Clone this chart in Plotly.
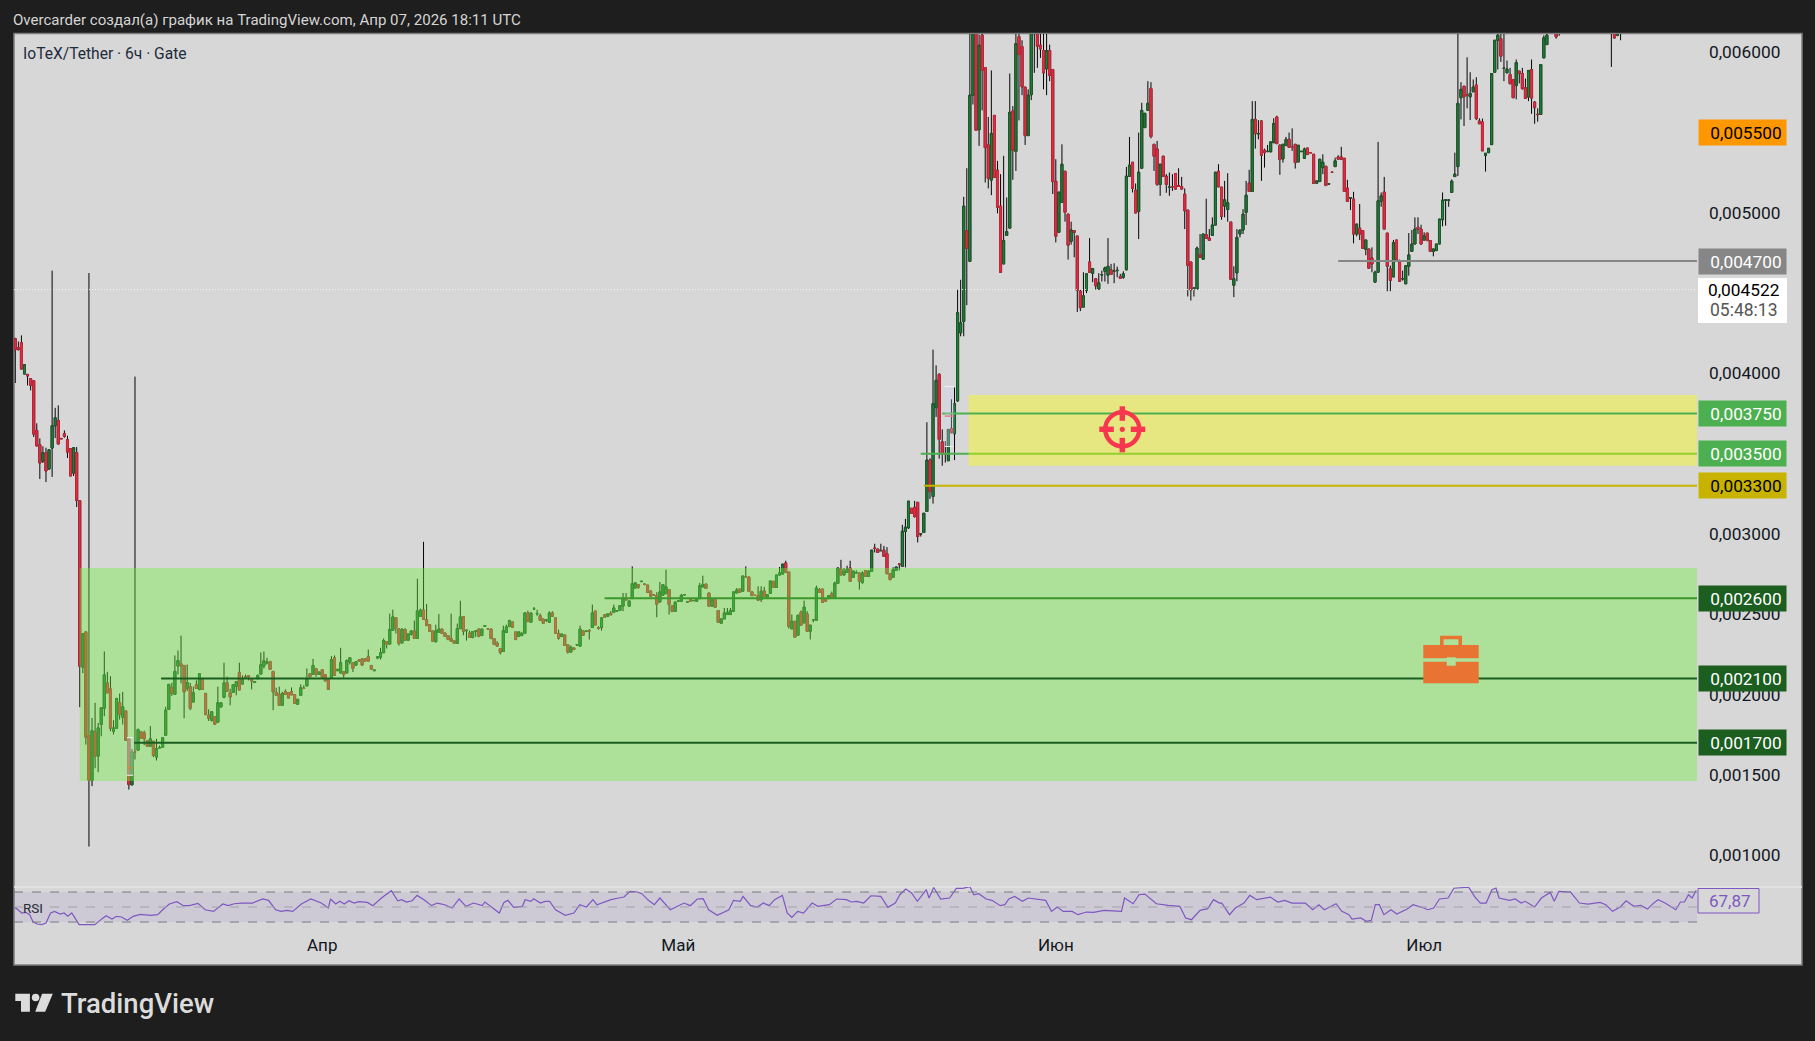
import plotly.graph_objects as go

W, H = 1815, 1041
PANE_L, PANE_R, MAIN_T, MAIN_B, RSI_B = 14, 1697, 34, 887, 926
FRAME_R, FRAME_B = 1802, 965

candle_index = list(range(500)) + [502, 503, 520, 521, 522, 523]

candle_open = [
4216,4160,4191,3996,3994,3967,3954,3645,3556,3454,
3506,3404,3535,3674,3707,3595,3624,3587,3531,3379,
3506,3207,2170,2390,1744,1464,1767,1616,1813,1915,
2072,2035,1771,1790,1948,1859,1898,1724,1437,1643,
1653,1767,1761,1713,1678,1709,1610,1666,1672,1746,
1908,2044,2001,2177,2191,2181,2038,2049,1953,2061,
2032,2094,2007,1871,1840,1862,1827,1922,1982,2073,
2011,2013,2051,2136,2065,2111,2117,2098,2075,2098,
2127,2177,2196,2206,2144,2013,2001,1933,2018,2011,
2018,1999,1939,1995,2040,2053,2129,2125,2160,2125,
2154,2123,2094,2104,2229,2148,2134,2142,2134,2202,
2198,2183,2216,2222,2222,2235,2181,2148,2227,2231,
2260,2330,2314,2400,2479,2408,2321,2404,2338,2375,
2396,2350,2487,2526,2466,2435,2396,2328,2388,2408,
2383,2367,2348,2334,2319,2410,2485,2397,2383,2355,
2395,2408,2367,2424,2409,2408,2348,2319,2286,2268,
2386,2423,2452,2390,2361,2367,2381,2508,2450,2532,
2502,2491,2470,2462,2450,2508,2477,2381,2361,2371,
2309,2264,2290,2308,2301,2396,2392,2398,2417,2520,
2415,2417,2496,2487,2506,2512,2519,2523,2550,2591,
2550,2597,2663,2684,2703,2688,2682,2645,2621,2616,
2576,2618,2628,2653,2554,2518,2581,2581,2620,2576,
2595,2584,2581,2597,2670,2688,2632,2550,2591,2523,
2444,2471,2498,2498,2519,2632,2657,2643,2734,2732,
2639,2618,2616,2591,2645,2605,2630,2705,2668,2744,
2750,2819,2763,2409,2456,2369,2514,2446,2502,2394,
2465,2463,2653,2657,2591,2597,2628,2605,2692,2781,
2744,2761,2788,2730,2757,2757,2697,2771,2736,2767,
2912,2906,2895,2899,2877,2752,2730,2773,2813,2798,
3015,3038,3160,3166,3197,2999,3009,3140,3460,3233,
3787,3994,3574,3498,3456,3657,3624,3829,4253,4324,
4889,4698,5731,6150,5518,6106,5905,5423,5204,5607,
5266,5042,4682,4860,4905,5634,5382,6098,6036,5783,
5481,5736,6130,6140,6044,6011,5897,6011,5893,5197,
4879,5065,5259,4992,4823,4889,4856,4512,4413,4516,
4694,4624,4589,4525,4613,4636,4612,4645,4636,4640,
4603,4599,4645,5228,5315,5141,5009,5278,5531,5638,
5775,5427,5398,5177,5353,5228,5158,5164,5245,5169,
5164,5117,5017,4694,4530,4525,4740,4711,4864,4843,
4860,4924,5259,5160,5042,5021,4943,4549,4626,4868,
4893,5003,5185,5133,5582,5492,5572,5390,5381,5380,
5437,5597,5421,5336,5419,5458,5409,5427,5317,5381,
5340,5404,5376,5365,5185,5195,5282,5290,5179,5254,
5288,5348,5348,5340,5154,5092,5086,4868,4905,4889,
4773,4775,4719,4568,4630,5073,5129,4874,4651,4601,
4831,4692,4588,4558,4667,4760,4806,4910,4899,4831,
4874,4827,4760,4765,4806,4957,5079,5079,5127,5226,
5288,5717,5789,5734,5723,5754,5796,5572,5566,5357,
5375,5425,5876,6075,6085,5899,5872,5862,5831,5793,
5883,5868,5779,5721,5893,5690,5614,5613,5965,6048,
6200,6130,6150,6200,6105,6150]

candle_high = [
4222,4199,4237,4054,3994,3967,3954,3689,3595,3546,
3537,3525,4640,3786,3801,3595,3645,3612,3531,3537,
3541,3207,2378,2390,4625,1854,1948,1823,1917,2268,
2141,2114,1840,1980,2006,2016,1898,1730,1661,3980,
1788,1767,1775,1713,1803,1709,1724,1682,1730,1923,
2063,2073,2243,2274,2367,2181,2187,2073,2049,2088,
2129,2094,2007,1908,1893,1862,2049,1949,2198,2111,
2036,2061,2080,2198,2119,2125,2117,2098,2082,2125,
2262,2268,2229,2206,2144,2042,2049,2016,2032,2011,
2044,1999,1970,2063,2057,2162,2129,2222,2160,2140,
2154,2123,2094,2239,2243,2157,2291,2142,2218,2229,
2198,2204,2216,2222,2222,2280,2181,2152,2235,2291,
2349,2330,2504,2529,2479,2411,2408,2413,2377,2396,
2460,2721,2535,2951,2564,2435,2396,2435,2502,2408,
2383,2367,2504,2334,2441,2584,2485,2406,2398,2392,
2396,2408,2408,2429,2409,2408,2348,2332,2286,2429,
2435,2466,2452,2390,2390,2390,2508,2522,2508,2545,
2528,2504,2470,2464,2518,2518,2477,2404,2377,2371,
2309,2305,2290,2310,2429,2396,2396,2408,2560,2520,
2425,2483,2496,2502,2519,2560,2521,2554,2632,2632,
2583,2798,2695,2684,2705,2688,2682,2645,2621,2637,
2701,2684,2777,2653,2554,2576,2583,2626,2622,2578,
2595,2586,2597,2695,2740,2688,2632,2591,2591,2523,
2471,2539,2539,2539,2639,2663,2657,2738,2798,2732,
2643,2618,2674,2674,2670,2622,2707,2705,2744,2794,
2812,2833,2763,2498,2456,2494,2523,2585,2519,2432,
2466,2678,2663,2657,2591,2616,2641,2703,2788,2839,
2788,2802,2833,2769,2773,2757,2767,2771,2769,2899,
2939,2906,2939,2926,2918,2752,2792,2794,2813,3057,
3094,3204,3160,3206,3197,3001,3129,3696,3471,4148,
4050,4001,3651,3578,3651,3839,3912,4521,4583,5100,
5278,6200,6250,6250,6110,6200,5905,5597,5887,5607,
5324,5241,5355,5096,5868,5665,6200,6200,6075,5783,
5769,6250,6250,6250,6150,6200,6200,6048,5893,5334,
5129,5427,5259,4992,4945,4889,4856,4520,4630,4620,
4843,4657,4589,4624,4640,4665,4843,4682,4686,4665,
4620,4636,5286,5473,5315,5183,5500,5686,5620,5820,
5814,5427,5448,5303,5353,5241,5251,5241,5245,5278,
5224,5152,5017,4694,4531,4790,4868,4868,5088,4899,
4972,5253,5303,5160,5199,5247,4943,4667,4899,4893,
5023,5199,5268,5696,5696,5578,5578,5400,5423,5442,
5589,5605,5427,5427,5473,5500,5526,5427,5421,5383,
5406,5404,5376,5365,5199,5334,5365,5290,5181,5254,
5344,5359,5411,5340,5206,5094,5131,4930,5055,4889,
4831,4775,4785,4640,5442,5127,5224,4874,4671,4831,
4831,4709,4640,4670,4874,4893,4972,4972,4926,4879,
4874,4827,4775,4806,4961,5127,5081,5085,5208,5375,
6200,5814,5789,5969,5876,5831,5845,5589,5587,5371,
5402,5868,6075,6200,6200,6200,5949,5903,5831,5955,
5883,5903,5837,5889,5955,5696,5651,5924,6106,6200,
6250,6250,6250,6250,6200,6250]

candle_low = [
3940,4143,4027,3996,3925,3894,3604,3548,3342,3442,
3323,3404,3355,3597,3560,3593,3599,3473,3361,3361,
3168,1921,2133,1688,1053,1429,1541,1516,1740,1865,
2010,1771,1751,1790,1844,1813,1715,1408,1437,1595,
1653,1726,1684,1678,1678,1610,1589,1666,1672,1746,
1908,1991,2001,2125,2069,1852,2022,1902,1953,2038,
2026,2032,1871,1835,1831,1815,1827,1922,1976,2020,
1933,2013,1995,2028,2065,2107,2088,2032,2075,2098,
2127,2162,2187,2156,1902,1995,1933,1933,2001,1978,
1997,1945,1939,1995,2038,2053,2109,2125,2111,2125,
2107,2084,2032,2104,2119,2148,2134,2104,2134,2187,
2140,2183,2208,2183,2208,2208,2158,2148,2220,2218,
2260,2287,2314,2400,2380,2305,2321,2338,2338,2367,
2350,2350,2487,2468,2429,2394,2332,2328,2388,2381,
2361,2342,2332,2319,2319,2410,2369,2336,2355,2350,
2359,2357,2367,2424,2407,2348,2311,2301,2249,2268,
2386,2423,2419,2342,2361,2367,2381,2454,2450,2532,
2491,2462,2444,2452,2450,2487,2381,2342,2361,2305,
2255,2264,2280,2308,2301,2369,2392,2342,2417,2433,
2404,2398,2481,2487,2496,2512,2519,2523,2519,2590,
2550,2597,2663,2659,2703,2680,2636,2612,2620,2481,
2576,2618,2628,2498,2512,2518,2581,2581,2620,2576,
2581,2584,2581,2597,2670,2661,2550,2550,2543,2450,
2444,2471,2498,2498,2519,2632,2636,2643,2733,2643,
2612,2617,2587,2576,2608,2605,2630,2668,2668,2744,
2750,2761,2411,2409,2357,2369,2432,2446,2394,2343,
2450,2463,2636,2574,2581,2597,2605,2605,2692,2744,
2744,2761,2705,2730,2757,2653,2690,2736,2736,2767,
2885,2885,2895,2860,2752,2715,2730,2773,2773,2798,
2792,3032,3129,3102,2947,2984,3009,3140,3218,3189,
3729,3469,3425,3444,3456,3630,3460,3823,4231,4231,
4425,4698,5675,5514,5417,5638,5189,5152,5110,5220,
4997,4630,4682,4860,4905,5206,5261,5576,5733,5423,
5481,5702,5872,5903,5965,5769,5733,5820,5117,4816,
4879,5065,4945,4709,4802,4723,4382,4388,4413,4500,
4630,4568,4522,4525,4572,4572,4558,4616,4562,4599,
4593,4589,4645,5228,5127,4999,4837,5278,5531,5638,
5464,5261,5168,5106,5228,5125,5106,5137,5148,5165,
5148,4899,4479,4454,4479,4525,4723,4711,4841,4829,
4860,4924,5162,4957,4972,4945,4587,4475,4574,4847,
4868,4924,5133,5133,5400,5458,5199,5282,5381,5380,
5437,5431,5237,5313,5419,5408,5386,5276,5317,5381,
5340,5363,5374,5183,5185,5195,5241,5170,5179,5252,
5288,5334,5334,5133,5071,5017,4810,4854,4831,4779,
4736,4655,4630,4568,4630,5038,4899,4512,4512,4601,
4709,4574,4578,4558,4609,4760,4806,4868,4802,4827,
4827,4760,4729,4765,4806,4916,4920,5038,5127,5226,
5230,5582,5541,5651,5578,5754,5578,5555,5386,5257,
5375,5425,5876,5893,5940,5820,5872,5804,5717,5707,
5806,5769,5713,5696,5617,5555,5568,5613,5965,6048,
6085,6103,5909,6085,6100,6075]

candle_close = [
4148,4148,4027,4054,3984,3925,3622,3548,3442,3506,
3392,3525,3674,3724,3560,3593,3608,3510,3361,3537,
3209,2176,2378,1734,1466,1775,1616,1792,1917,2122,
2010,1790,1792,1975,1875,1923,1715,1439,1641,1641,
1782,1726,1724,1678,1724,1620,1663,1670,1730,1902,
2063,2007,2144,2212,2177,2016,2075,1914,2011,2038,
2129,2032,1875,1852,1893,1815,1949,1949,2073,2020,
1984,2061,2080,2028,2098,2107,2111,2084,2080,2119,
2185,2210,2201,2156,2016,1995,1933,2007,2001,1978,
1997,1945,1970,2042,2038,2100,2109,2181,2125,2140,
2107,2084,2032,2218,2119,2157,2198,2125,2212,2229,
2162,2204,2208,2183,2208,2208,2158,2152,2235,2260,
2336,2312,2405,2483,2411,2317,2408,2338,2377,2396,
2350,2520,2526,2468,2429,2394,2332,2396,2408,2381,
2361,2342,2332,2319,2410,2483,2394,2400,2355,2392,
2396,2363,2408,2429,2407,2348,2311,2301,2261,2398,
2421,2460,2419,2342,2390,2379,2508,2454,2508,2534,
2504,2462,2444,2464,2508,2487,2381,2350,2377,2305,
2264,2295,2280,2310,2408,2369,2396,2396,2508,2433,
2413,2477,2481,2502,2496,2539,2521,2554,2597,2590,
2583,2690,2695,2668,2705,2686,2636,2612,2620,2562,
2639,2684,2670,2560,2518,2576,2583,2618,2622,2578,
2581,2586,2597,2678,2684,2661,2550,2591,2543,2450,
2471,2508,2512,2523,2639,2651,2636,2738,2733,2643,
2616,2617,2587,2643,2608,2622,2707,2668,2744,2757,
2812,2761,2425,2456,2357,2494,2432,2545,2394,2432,
2466,2663,2636,2574,2581,2616,2605,2694,2788,2744,
2767,2781,2705,2769,2759,2705,2757,2736,2769,2899,
2910,2885,2897,2860,2752,2715,2777,2794,2811,3017,
3042,3204,3129,3108,2984,3001,3129,3460,3264,3812,
3957,3589,3498,3497,3651,3630,3812,4378,4315,5042,
4779,5733,6160,5514,6044,5887,5406,5214,5495,5220,
5034,4630,4827,4883,5626,5390,6054,5986,5785,5481,
5733,6130,6170,6038,6021,5872,6011,5856,5195,4854,
5129,5303,5003,4798,4893,4879,4516,4409,4483,4620,
4630,4653,4545,4564,4615,4657,4667,4616,4638,4642,
4593,4620,5228,5297,5152,4999,5253,5638,5620,5682,
5475,5353,5177,5303,5228,5177,5160,5162,5148,5165,
5148,5013,4672,4520,4531,4781,4723,4868,4841,4829,
4924,5253,5162,4978,5081,5063,4587,4589,4847,4893,
4992,5110,5133,5582,5493,5494,5359,5375,5383,5442,
5557,5431,5332,5427,5458,5408,5407,5313,5421,5383,
5398,5363,5374,5183,5199,5334,5315,5170,5181,5252,
5324,5334,5334,5133,5071,5094,4868,4930,4868,4779,
4831,4655,4682,4630,5075,5106,4899,4667,4580,4814,
4709,4574,4591,4670,4738,4806,4899,4899,4806,4856,
4827,4760,4775,4806,4961,5079,5081,5080,5197,5241,
5682,5769,5723,5732,5744,5783,5587,5555,5386,5371,
5402,5868,6075,6106,5976,5901,5895,5804,5717,5936,
5868,5773,5713,5887,5715,5655,5612,5924,6090,6106,
6096,6180,6180,6090,6120,6180]

assert len(candle_open) == len(candle_high) == len(candle_low) == len(candle_close) == len(candle_index)

rsi_x = [-0.4,0.6,2.1,3.4,4.7,5.8,7.2,8.5,10,11.5,12.8,14.6,15.9,17.1,18.4,19.7,20.8,24,25.9,28.3,29.6,31.5,33,34.6,36.5,38.4,40.8,44,46.4,48.3,50.2,52.6,54.8,56.7,59.5,61.9,64.6,67.6,69.4,71.3,73.9,77.3,80.6,82.5,84.8,86.6,88.5,90.4,93.2,96.3,99.7,102,102.7,104.4,105.7,107.2,108.7,110.4,111.9,114.7,116.5,119.3,122.5,124.6,125.9,127.4,129.3,130.9,133.4,135.6,137.5,139.9,142.3,144.6,146.8,149.3,152.1,153,154.9,157.7,159.2,160.5,162.4,165.2,166.1,168,168.9,171.1,172.6,174.1,176,179.2,182,183.9,186.1,188.2,189.5,191,194.1,196.6,198.3,200.3,202.6,204.1,206.3,208.2,210,213.4,216.6,217.9,219.9,222.2,224.1,225.9,228.7,232.5,234,236.2,237.1,239.6,241.8,243.7,245.6,247.4,249.9,251.5,253,254.9,256.8,259.6,261.5,265.2,267.6,270.8,272.3,274.2,276.4,278.8,282,284.3,286.7,
288.2,290.1,292,293.9,296.8,297.7,299.2,301.5,304.4,306.6,308.7,311,312.3,313.9,316.3,318.2,320.9,322.4,323.7,325.6,328.1,330,333.8,335.7,337.6,339.5,341.4,344.3,346.2,349,351.3,354.7,360.4,361.4,364.2,366.1,368,371.8,375.6,379.4,381.3,383.2,386,388.5,390.4,392.3,393.1,395.6,397.5,400.3,402.2,404.5,408.9,411.3,413.6,415.9,420.3,422.7,424.7,426.5,430.3,432.2,434.5,435.5,438.3,440.2,441.8,443.1,444.4,445.9,448.2,450.1,453.5,455.4,458.3,460.2,462.1,464,466.8,468.7,473.5,475.4,477.3,479.2,481.1,482.4,483.4,486.8,488.7,490.6,491.9,495,497.2,500.1,501.4,502.9,506.7,509.6,512.4,516.3,518.2,520.4,522.9,524.8,527.3,529.6,531.8,533.4,535.2,537.5,541,542.5,543.8,545.1,546.3,547.6]

rsi_val = [50,47.3,42,42.9,39.8,30,27.4,26.5,28.7,42,44.2,40.7,42,37.6,42,34,26.5,26.5,26.5,34.5,38.5,34,37.6,36.7,32.3,37.6,40.2,38.9,39.8,47.3,54,57.1,51.8,51.8,54.9,46.4,44.2,54,51.8,54.4,55.3,55.3,60.7,58.9,46.4,44.2,45.5,44.2,54,60.7,55.3,48.7,60.7,54,57.6,54,58.4,55.3,57.1,56.2,51.8,62,71.8,58.4,59.8,56.7,58.4,65.5,58.9,51.8,55.3,53.1,48.7,60.7,50.9,55.3,51.8,56.7,50.9,42,56.2,58.9,49.6,50.9,59.8,57.6,61.1,55.3,57.6,57.6,46.4,38.9,42,53.1,50,59.8,53.1,55.3,59.8,62,63.3,70.9,70,67.8,58.9,53.1,62,46.4,53.1,55.3,51.8,60.7,61.1,46.4,38.9,46.4,58.9,57.6,64.2,51.8,50,55.3,51.8,59.8,65.5,42,36.2,44.2,42,55.3,50.9,53.1,60.7,59.8,56.7,57.6,55.3,65,64.2,49.6,55.3,
66.4,74,68.7,57.6,73.1,62,76,60.7,62,74.9,74.9,77.2,66.4,67.8,60.7,58.9,51.8,53.1,60.7,64.2,57.6,62,59.8,58.9,44.2,50,44.2,44.2,39.8,43.3,42.9,45.5,44.2,62,54.4,66.4,67.3,54.4,52.2,50.9,35.4,33.1,45.5,47.8,59.8,55.3,55.3,39.8,48.7,55.3,65.5,59.8,63.3,56.7,58.9,55.3,55.3,46.4,53.1,46.4,54.4,44.2,39.8,34,35.4,31,32.3,53.1,53.1,39.8,46.4,40.7,47.3,53.1,49.6,46.4,48.7,60.7,62,75,76.4,64.2,55.3,55.3,73.1,75.3,62,58.9,60.7,55.3,57.6,50,62,69.5,57.6,70.9,70,55.3,53.9,56.2,53.1,44.2,50,58.4,50.9,52.2,47.3,53.9,59.8,55.3,46.4,56.7,56.7,66.4,62,72]

assert len(rsi_x) == len(rsi_val)

price_ticks = [0.006, 0.005, 0.004, 0.003, 0.0025, 0.002, 0.0015, 0.001]
month_labels = ["Апр", "Май", "Июн", "Июл"]
month_index = [100, 216, 339, 459]

current_price = 0.004522
rsi_levels = [70, 50, 30]

# (price, first candle index, line colour, drawn under the zone)
level_lines = [
    (0.0026, 192, "#1b5e20", True),
    (0.0035, 295, "#4caf50", True),
    (0.00375, 302, "#4caf50", False),
    (0.0033, 296, "#c8b400", False),
    (0.0021, 47.5, "#1b5e20", False),
    (0.0017, 38.7, "#1b5e20", False),
    (0.0047, 431, "#868686", False),
]
# (price, text, background, text colour)
price_tags = [
    (0.0055, "0,005500", "#ff9800", "#000000"),
    (0.0047, "0,004700", "#868686", "#ffffff"),
    (0.00375, "0,003750", "#4caf50", "#ffffff"),
    (0.0035, "0,003500", "#4caf50", "#ffffff"),
    (0.0033, "0,003300", "#c8b400", "#000000"),
    (0.0026, "0,002600", "#1b5e20", "#ffffff"),
    (0.0021, "0,002100", "#1b5e20", "#ffffff"),
    (0.0017, "0,001700", "#1b5e20", "#ffffff"),
]
zone_green = (0.002788, 0.001461, 21)
zone_yellow = (0.003866, 0.003425, 310.6)


def px(x):
    return x / W


def py(y):
    return 1 - y / H


X_MIN, X_MAX = -0.42, 547.9
Y_MAX, Y_MIN = 0.006114, 0.000801
FONT = "Roboto"

scale = 1e-6
o = [v * scale for v in candle_open]
h = [v * scale for v in candle_high]
l = [v * scale for v in candle_low]
c = [v * scale for v in candle_close]
body_hi = [max(a, b) for a, b in zip(o, c)]
body_lo = [min(a, b) for a, b in zip(o, c)]

fig = go.Figure()
fig.add_trace(go.Candlestick(
    x=candle_index, open=o, high=h, low=l, close=c, whiskerwidth=0,
    increasing=dict(line=dict(color="#050505", width=1), fillcolor="#050505"),
    decreasing=dict(line=dict(color="#050505", width=1), fillcolor="#050505"),
    hoverinfo="skip", xaxis="x", yaxis="y",
))
fig.add_trace(go.Candlestick(
    x=candle_index, open=o, high=body_hi, low=body_lo, close=c, whiskerwidth=0,
    increasing=dict(line=dict(color="#1c5c2b", width=1), fillcolor="#22803a"),
    decreasing=dict(line=dict(color="#c42a3c", width=1), fillcolor="#ea2a42"),
    hoverinfo="skip", xaxis="x", yaxis="y",
))
fig.add_trace(go.Scatter(
    x=rsi_x, y=rsi_val, mode="lines", line=dict(color="#7e57c2", width=1.2),
    hoverinfo="skip", xaxis="x", yaxis="y2",
))

shapes = []
# frame and separators
shapes.append(dict(type="rect", xref="paper", yref="paper", layer="below",
                   x0=px(PANE_L), x1=px(FRAME_R), y0=py(MAIN_T - 0.5), y1=py(FRAME_B),
                   fillcolor="#d7d7d7", line=dict(color="#7d7d7d", width=1.5)))
shapes.append(dict(type="line", xref="paper", yref="paper", layer="below",
                   x0=px(PANE_L), x1=px(FRAME_R), y0=py(MAIN_B), y1=py(MAIN_B),
                   line=dict(color="#e6e6e6", width=1.5)))
# RSI band
shapes.append(dict(type="rect", xref="x", yref="y2", layer="below", x0=X_MIN, x1=X_MAX,
                   y0=rsi_levels[2], y1=rsi_levels[0],
                   fillcolor="rgba(126,87,194,0.10)", line=dict(width=0)))
for lev, col in zip(rsi_levels, ["#787b86", "#a3a3a8", "#787b86"]):
    shapes.append(dict(type="line", xref="x", yref="y2", layer="above", x0=X_MIN, x1=X_MAX,
                       y0=lev, y1=lev, line=dict(color=col, width=1, dash="dash")))
# dotted last price
shapes.append(dict(type="line", xref="x", yref="y", x0=X_MIN, x1=X_MAX,
                   y0=current_price, y1=current_price,
                   line=dict(color="#f5f5f5", width=1, dash="1px,2px")))
# lines under the zones
for price, start, col, under in level_lines:
    if under:
        shapes.append(dict(type="line", xref="x", yref="y", x0=start, x1=X_MAX, y0=price, y1=price,
                           line=dict(color=col, width=2)))
# zones
shapes.append(dict(type="rect", xref="x", yref="y", x0=zone_green[2], x1=X_MAX,
                   y0=zone_green[1], y1=zone_green[0],
                   fillcolor="rgba(111,241,63,0.40)", line=dict(width=0)))
shapes.append(dict(type="rect", xref="x", yref="y", x0=zone_yellow[2], x1=X_MAX,
                   y0=zone_yellow[1], y1=zone_yellow[0],
                   fillcolor="rgba(255,255,0,0.40)", line=dict(width=0)))
for price, start, col, under in level_lines:
    if not under:
        shapes.append(dict(type="line", xref="x", yref="y", x0=start, x1=X_MAX, y0=price, y1=price,
                           line=dict(color=col, width=2)))
# small range tools
for x0, x1, top, bot, mid, midcol in [(36.4, 38.4, 0.001731, 0.001497, 0.001543, "#c98a3a"),
                                      (302.8, 305.8, 0.003918, 0.003545, 0.003734, "#ea7a88")]:
    shapes.append(dict(type="rect", xref="x", yref="y", x0=x0, x1=x1, y0=bot, y1=top,
                       fillcolor="rgba(205,215,245,0.30)", line=dict(width=0)))
    for y_ in (top, bot):
        shapes.append(dict(type="line", xref="x", yref="y", x0=x0, x1=x1, y0=y_, y1=y_,
                           line=dict(color="#f2f2f2", width=1)))
    shapes.append(dict(type="line", xref="x", yref="y", x0=x0, x1=x1, y0=mid, y1=mid,
                       line=dict(color=midcol, width=1.5)))


def prect(x0, y0, x1, y1, **kw):
    d = dict(type="rect", xref="paper", yref="paper", x0=px(x0), x1=px(x1), y0=py(y0), y1=py(y1))
    d.update(kw)
    return d


def ppath(points, fill):
    path = "M " + " L ".join(f"{px(a):.5f},{py(b):.5f}" for a, b in points) + " Z"
    return dict(type="path", xref="paper", yref="paper", path=path, fillcolor=fill, line=dict(width=0))


# target icon
RED = "#f7374f"
cx, cy = 1122.3, 429.3
shapes.append(dict(type="circle", xref="paper", yref="paper", x0=px(cx - 17), x1=px(cx + 17),
                   y0=py(cy - 17), y1=py(cy + 17), line=dict(color=RED, width=4.5),
                   fillcolor="rgba(0,0,0,0)"))
for a, b, e, f in [(-2.7, -23, 2.7, -8.5), (-2.7, 8.5, 2.7, 23), (-23, -2.7, -8.5, 2.7), (8.5, -2.7, 23, 2.7)]:
    shapes.append(prect(cx + a, cy + b, cx + e, cy + f, fillcolor=RED, line=dict(width=0)))
shapes.append(dict(type="circle", xref="paper", yref="paper", x0=px(cx - 2.6), x1=px(cx + 2.6),
                   y0=py(cy - 2.6), y1=py(cy + 2.6), fillcolor=RED, line=dict(width=0)))
# briefcase icon
OR = "#e97333"
shapes.append(prect(1441.8, 637.5, 1460.2, 650, fillcolor="rgba(0,0,0,0)", line=dict(color=OR, width=3.5)))
shapes.append(prect(1423.3, 645, 1478.7, 658.3, fillcolor=OR, line=dict(width=0)))
shapes.append(prect(1423.3, 661.7, 1478.7, 683.3, fillcolor=OR, line=dict(width=0)))
shapes.append(prect(1446.7, 657.3, 1455.7, 665.7, fillcolor="#aee09a", line=dict(width=0)))
# logo
LOGO = "#dcdcdc"
shapes.append(ppath([(15.3, 993.8), (29.9, 993.8), (29.9, 1011.7), (21, 1011.7), (21, 1001), (15.3, 1001)], LOGO))
shapes.append(dict(type="circle", xref="paper", yref="paper", x0=px(31.8), x1=px(39.4),
                   y0=py(993.7), y1=py(1001.3), fillcolor=LOGO, line=dict(width=0)))
shapes.append(ppath([(42.1, 993.8), (52.8, 993.8), (45.2, 1011.7), (35.2, 1011.7)], LOGO))
# RSI value box
shapes.append(prect(1698, 888.5, 1759, 913, fillcolor="rgba(0,0,0,0)", line=dict(color="#7e57c2", width=1)))

ann = []


def text(x, y, s, size, color, anchor="left", family=FONT, weight=None):
    f = dict(family=family, size=size, color=color)
    if weight:
        f["weight"] = weight
    ann.append(dict(xref="paper", yref="paper", x=px(x), y=py(y), text=s, showarrow=False,
                    xanchor=anchor, yanchor="middle", font=f))


text(11, 20, "Overcarder создал(а) график на TradingView.com, Апр 07, 2026 18:11 UTC", 15.05, "#d5d5d5")
text(21, 54, "IoTeX/Tether · 6ч · Gate", 15.6, "#1e2b3c")
text(21, 908, "RSI", 13.5, "#2a2e39")
text(59, 1003, "TradingView", 27.5, "#dcdcdc", weight=500)
text(1730, 901, "67,87", 17, "#7e57c2", anchor="center")

for price, s, bg, fg in price_tags:
    ann.append(dict(xref="paper", yref="y", x=px(1698), y=price, text=s + "\u00a0", showarrow=False,
                    xanchor="left", yanchor="middle", width=87, height=25, align="right",
                    bgcolor=bg, borderpad=0, font=dict(family=FONT, size=17.3, color=fg)))
# last price box
shapes.append(prect(1698, 278, 1787, 323, fillcolor="#ffffff", line=dict(width=0)))
text(1782, 289.5, "0,004522", 17.3, "#000000", anchor="right")
text(1780, 310, "05:48:13", 17.5, "#555555", anchor="right")

fig.update_layout(
    width=W, height=H, autosize=False,
    margin=dict(l=0, r=0, t=0, b=0),
    paper_bgcolor="#1e1e1e", plot_bgcolor="rgba(0,0,0,0)",
    showlegend=False, separators=", ", boxmode="overlay", boxgap=0.06, dragmode=False,
    shapes=shapes, annotations=ann,
    xaxis=dict(domain=[px(PANE_L), px(PANE_R)], range=[X_MIN, X_MAX], anchor="y2", type="linear",
               rangeslider=dict(visible=False), showgrid=False, zeroline=False, showline=False,
               tickmode="array", tickvals=month_index, ticktext=month_labels, ticks="",
               ticklabelstandoff=7, tickfont=dict(family=FONT, size=17, color="#131722")),
    yaxis=dict(domain=[py(MAIN_B), py(MAIN_T)], range=[Y_MIN, Y_MAX], anchor="x", side="right",
               showgrid=False, zeroline=False, showline=False, tickmode="array", tickvals=price_ticks,
               tickformat=".6f", ticks="", ticklabelstandoff=11,
               tickfont=dict(family=FONT, size=17.3, color="#131722")),
    yaxis2=dict(domain=[py(RSI_B), py(MAIN_B)], range=[24.7, 76.7], anchor="x", side="right",
                showgrid=False, zeroline=False, showline=False, showticklabels=False, ticks=""),
)

fig.write_html("out.html", config=dict(displayModeBar=False),
               post_script="document.body.style.margin='0';document.body.style.background='#1e1e1e';document.body.style.overflow='hidden';")
